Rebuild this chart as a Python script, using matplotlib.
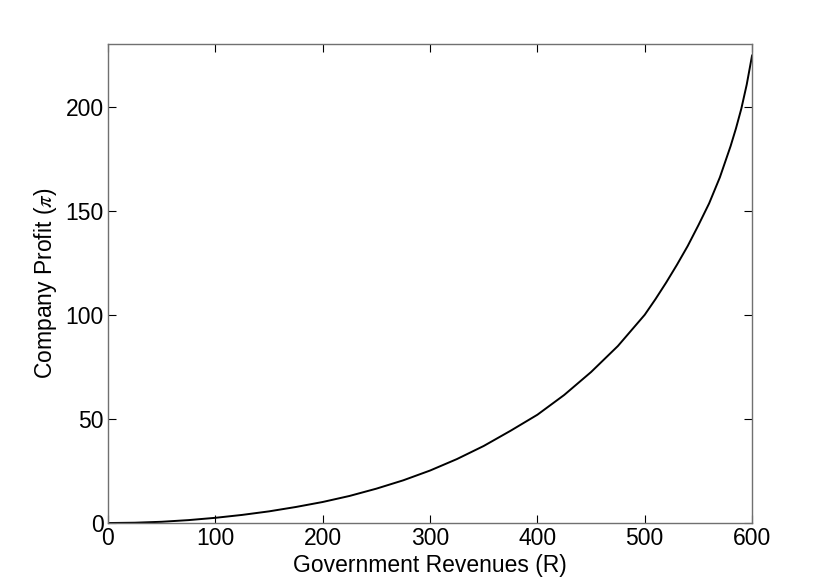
import numpy as np
import matplotlib
matplotlib.use('Agg')
import matplotlib.pyplot as plt

plt.rcParams['font.family'] = ['Liberation Sans', 'DejaVu Sans']
plt.rcParams['mathtext.fontset'] = 'stix'

# valores
revenues = [0, 25, 50, 75, 100, 125, 150, 175, 200, 225, 250, 275, 300, 325,
            350, 375, 400, 425, 450, 475, 500, 510, 520, 530, 540, 550, 560,
            570, 580, 585, 590, 595, 600]
profit = [0, 0.15, 0.6, 1.4, 2.5, 3.9, 5.6, 7.7, 10.1, 13.0, 16.5, 20.5, 25.2,
          30.7, 37.0, 44.3, 52.0, 61.5, 72.5, 85.0, 100.0, 107.5, 115.5, 124.0,
          133.0, 143.0, 153.5, 166.0, 181.0, 189.5, 199.0, 210.5, 224.5]

fig = plt.figure(figsize=(8.3, 5.88), dpi=100)
ax = fig.add_axes([0.1301, 0.1105, 0.776, 0.8145])

ax.plot(revenues, profit, color='black', linewidth=1.4)

ax.set_xlim(0, 600)
ax.set_ylim(0, 230)
ax.set_xticks([0, 100, 200, 300, 400, 500, 600])
ax.set_yticks([0, 50, 100, 150, 200])

for s in ax.spines.values():
    s.set_color('#707070')
    s.set_linewidth(1.0)

ax.tick_params(direction='in', length=6, width=0.8, color='black',
               top=True, right=True, labelsize=16.5, pad=3)

ax.set_xlabel('Government Revenues (R)', fontsize=16.5, labelpad=3)
ax.set_ylabel(r'Company Profit ($\pi$)', fontsize=16.5, labelpad=5)

fig.savefig('out.png', dpi=100)
